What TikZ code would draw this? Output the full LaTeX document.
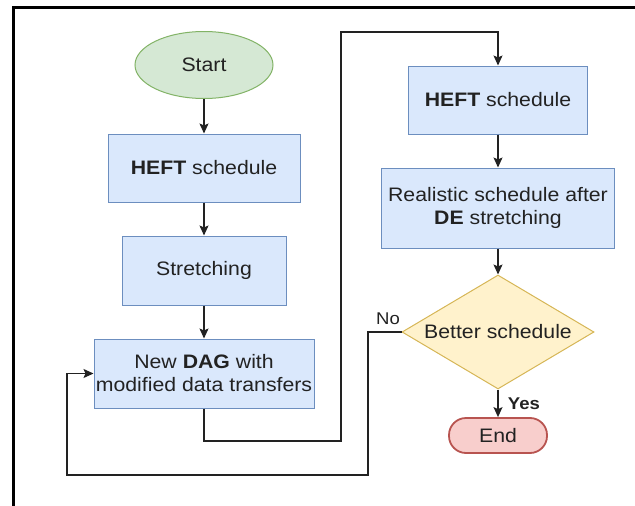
\documentclass[tikz,border=0pt]{standalone}
\usepackage{fontspec}
\setmainfont{Liberation Sans}[FakeStretch=1.09]
\usepackage{tikz}
\usetikzlibrary{shapes.geometric,arrows.meta}

\definecolor{boxfill}{HTML}{DAE8FC}
\definecolor{boxline}{HTML}{6C8EBF}
\definecolor{startfill}{HTML}{D5E8D4}
\definecolor{startline}{HTML}{82B366}
\definecolor{endfill}{HTML}{F8CECC}
\definecolor{endline}{HTML}{B85450}
\definecolor{testfill}{HTML}{FFF2CC}
\definecolor{testline}{HTML}{D6B656}
\definecolor{ink}{HTML}{222222}

\tikzset{
  every node/.style={font=\fontsize{19.5}{23}\selectfont, text=ink},
  procbox/.style={rectangle, draw=boxline, fill=boxfill, line width=1pt,
    inner sep=0pt, align=center},
  startbox/.style={ellipse, draw=startline, fill=startfill, line width=1pt,
    minimum width=138, minimum height=67, inner sep=0pt},
  endbox/.style={rectangle, rounded corners=17pt, draw=endline, fill=endfill,
    line width=1.8pt, minimum width=98, minimum height=35, inner sep=0pt},
  testbox/.style={diamond, aspect=1.68, draw=testline, fill=testfill,
    line width=1pt, minimum width=192, minimum height=114, inner sep=0pt},
  arr/.style={draw=ink, line width=1.2pt, -{Stealth[length=10pt,width=9pt,inset=2pt]}}
}

\begin{document}
\begin{tikzpicture}[x=1pt,y=-1pt]
	\useasboundingbox (0,0) rectangle (635,506);
	% frame
	\draw[line width=3pt] (13,506) -- (13,7) -- (635,7);

	% left column
	\node[startbox] (start) at (204,65) {Start};
	\node[procbox, minimum width=192, minimum height=68] (heft) at (204,168)
		{\textbf{HEFT} schedule};
	\node[procbox, minimum width=164, minimum height=69] (stretch) at (204,270.5)
		{Stretching};
	\node[procbox, minimum width=220, minimum height=69] (dag) at (204,373.5)
		{New \textbf{DAG} with\\modified data transfers};

	% right column
	\node[procbox, minimum width=179, minimum height=68] (heft2) at (498,100)
		{\textbf{HEFT} schedule};
	\node[procbox, minimum width=233, minimum height=80] (real) at (498,208)
		{Realistic schedule after\\\textbf{DE} stretching};
	\node[testbox] (test) at (498,332) {Better schedule};
	\node[endbox] (end) at (498,435.5) {End};

	% connectors
	\draw[arr] (start) -- (heft);
	\draw[arr] (heft) -- (stretch);
	\draw[arr] (stretch) -- (dag);
	\coordinate (bendA) at (341,441);
	\coordinate (bendB) at (341,32);
	\draw[arr] (dag.south) |- (bendA) -- (bendB) -| (heft2.north);
	\draw[arr] (heft2) -- (real);
	\draw[arr] (real) -- (test);
	\draw[arr] (test) -- node[right, xshift=6pt, font=\fontsize{17}{19}\selectfont\bfseries] {Yes} (end);
	\coordinate (bendC) at (368,475);
	\coordinate (bendD) at (67,475);
	\draw[arr] (test.west) -| (bendC) -| (bendD) |- (dag.west);
	\node[font=\fontsize{17}{19}\selectfont] (no) at (388,319) {No};
\end{tikzpicture}
\end{document}
